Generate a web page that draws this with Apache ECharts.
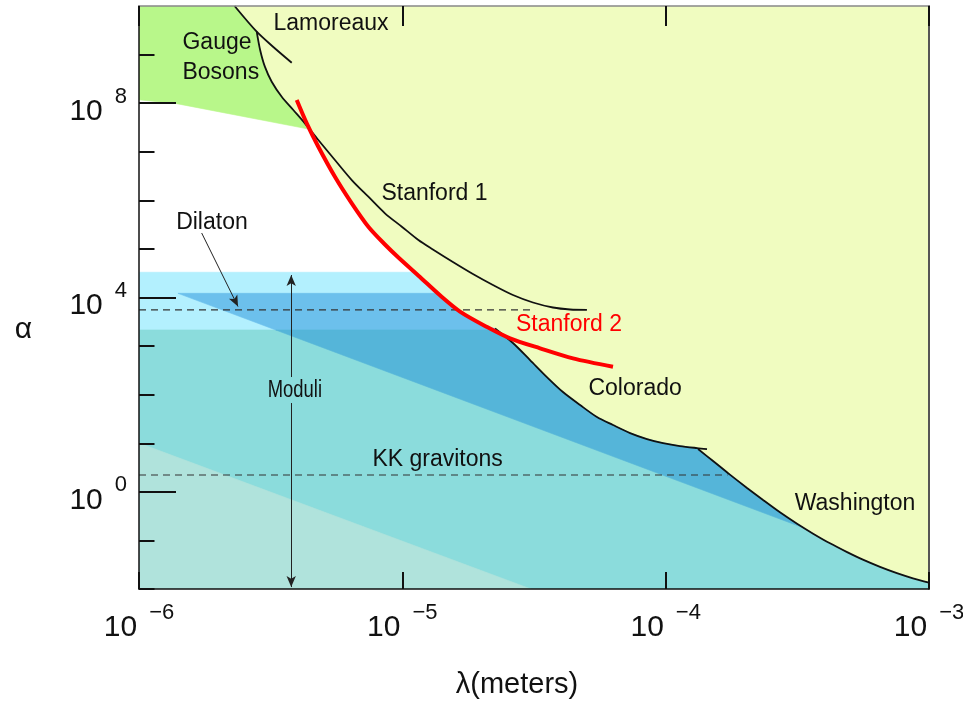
<!DOCTYPE html>
<html>
<head>
<meta charset="utf-8">
<script src="https://cdn.jsdelivr.net/npm/echarts@6/dist/echarts.min.js"></script>
<style>html,body{margin:0;padding:0;background:#fff}#c{width:963px;height:712px}</style>
</head>
<body>
<div id="c"></div>
<script>
// Every point is [log10 λ (metres), log10 α]
const xTickExps = [-6, -5, -4, -3];
const yTickExps = [-2, -1, 0, 1, 2, 3, 4, 5, 6, 7, 8, 9];
const yLabelExps = [0, 4, 8];

const lamoreaux = [[-5.637, 10.0], [-5.553, 9.471], [-5.491, 9.162], [-5.420, 8.833]];
const stanford1 = [[-5.553, 9.471], [-5.540, 9.094], [-5.522, 8.751], [-5.496, 8.442], [-5.458, 8.133],
  [-5.414, 7.859], [-5.370, 7.585], [-5.319, 7.242], [-5.256, 6.830], [-5.192, 6.418], [-5.129, 6.074],
  [-5.066, 5.733], [-5.002, 5.457], [-4.939, 5.183], [-4.884, 4.988], [-4.808, 4.730], [-4.732, 4.483],
  [-4.656, 4.257], [-4.580, 4.051], [-4.504, 3.897], [-4.428, 3.794], [-4.363, 3.753], [-4.299, 3.745]];
const stanford2 = [[-5.401, 8.065], [-5.363, 7.585], [-5.319, 7.104], [-5.256, 6.486], [-5.192, 5.939],
  [-5.129, 5.457], [-5.066, 5.091], [-5.015, 4.823], [-4.933, 4.422], [-4.857, 4.045], [-4.781, 3.711],
  [-4.678, 3.392], [-4.591, 3.160], [-4.477, 2.954], [-4.352, 2.748], [-4.200, 2.575]];
const colorado = [[-4.648, 3.362], [-4.580, 3.063], [-4.515, 2.713], [-4.451, 2.363], [-4.390, 2.054],
  [-4.325, 1.787], [-4.261, 1.540], [-4.200, 1.375], [-4.135, 1.210], [-4.071, 1.087], [-4.010, 1.005],
  [-3.946, 0.943], [-3.881, 0.901], [-3.843, 0.881]];
const washington = [[-3.877, 0.881], [-3.820, 0.634], [-3.756, 0.354], [-3.691, 0.080], [-3.630, -0.169],
  [-3.566, -0.422], [-3.501, -0.657], [-3.440, -0.861], [-3.376, -1.060], [-3.311, -1.241], [-3.251, -1.396],
  [-3.186, -1.544], [-3.122, -1.673], [-3.061, -1.779], [-3.000, -1.867]];
const gaugeLowerEdge = [[-6.0, 8.07], [-5.857, 7.99]];
const dilatonBand = [3.331, 4.52];         // light band (log10 α range)
const moduliTop = 3.331;                   // teal region top
const kkTop = 4.086;                       // upper edge of the darker wedge
const wedgeUpperLine = [[-5.852, 4.086], [-3.490, -0.714]];
const wedgeLowerLine = [[-6.0, 1.004], [-4.705, -1.610]];
const dilatonDash = [[-6.0, 3.745], [-4.496, 3.745]];
const kkDash = [[-6.0, 0.346], [-3.765, 0.346]];
const dilatonArrow = [[-5.762, 5.327], [-5.624, 3.815]];
const moduliArrowUp = [[-5.422, 2.363], [-5.422, 4.463]];
const moduliArrowDown = [[-5.422, 1.828], [-5.422, -1.96]];
const annotations = [
  ['Lamoreaux', -5.271, 9.634],
  ['Gauge\nBosons', -5.835, 8.940],
  ['Dilaton', -5.723, 5.543],
  ['Stanford 1', -4.878, 6.130],
  ['Stanford 2', -4.367, 3.433],
  ['Colorado', -4.116, 2.116],
  ['Washington', -3.281, -0.251],
  ['KK gravitons', -4.866, 0.655],
  ['Moduli', -5.408, 2.085]
];

const FONT = '"Liberation Sans", Arial, Helvetica, sans-serif';
const C = {
  yellow: '#f0fcc0', green: '#b8f78a', white: '#ffffff', cyan: '#b3f0fe',
  teal: '#8bdcdc', lightTeal: '#b0e3dc', medium: '#6cc0ec', dark: '#55b5d9'
};
const annStyle = {
  'Gauge\nBosons': { align: 'left' },
  'Stanford 2': { color: '#ff0000' },
  'Moduli': { scaleX: 0.8 }
};

// ---------- geometry helpers (work in data space) ----------
function clipPoly(poly, inside, inter) {
  const out = [];
  for (let i = 0; i < poly.length; i++) {
    const cur = poly[i], prev = poly[(i + poly.length - 1) % poly.length];
    const ci = inside(cur), pi = inside(prev);
    if (ci) { if (!pi) out.push(inter(prev, cur)); out.push(cur); }
    else if (pi) out.push(inter(prev, cur));
  }
  return out;
}
function clipY(poly, lo, hi) {
  let p = poly;
  const at = (v) => (a, b) => { const t = (v - a[1]) / (b[1] - a[1]); return [a[0] + t * (b[0] - a[0]), v]; };
  if (lo != null) p = clipPoly(p, q => q[1] >= lo, at(lo));
  if (hi != null) p = clipPoly(p, q => q[1] <= hi, at(hi));
  return p;
}
function clipLine(poly, line, side) {
  const [p1, p2] = line;
  const f = q => side * ((p2[0] - p1[0]) * (q[1] - p1[1]) - (p2[1] - p1[1]) * (q[0] - p1[0]));
  return clipPoly(poly, q => f(q) >= 0, (a, b) => {
    const fa = f(a), fb = f(b), t = fa / (fa - fb);
    return [a[0] + t * (b[0] - a[0]), a[1] + t * (b[1] - a[1])];
  });
}
function crossing(A, B) {
  for (let i = 0; i < A.length - 1; i++) for (let j = 0; j < B.length - 1; j++) {
    const p = A[i], r = [A[i + 1][0] - p[0], A[i + 1][1] - p[1]];
    const q = B[j], s = [B[j + 1][0] - q[0], B[j + 1][1] - q[1]];
    const den = r[0] * s[1] - r[1] * s[0];
    if (Math.abs(den) < 1e-12) continue;
    const t = ((q[0] - p[0]) * s[1] - (q[1] - p[1]) * s[0]) / den;
    const u = ((q[0] - p[0]) * r[1] - (q[1] - p[1]) * r[0]) / den;
    if (t >= 0 && t <= 1 && u >= 0 && u <= 1) return { pt: [p[0] + t * r[0], p[1] + t * r[1]], i, j };
  }
  return null;
}

const X0 = xTickExps[0], X1 = xTickExps[xTickExps.length - 1];
const Y0 = -2, Y1 = 10;
const cr = crossing(stanford1, stanford2);
const upperEnvelope = [lamoreaux[0], ...stanford1.slice(0, cr.i + 1), cr.pt];
const allowed = [[X0, Y1], ...upperEnvelope,
  ...stanford2.slice(cr.j + 1).filter(p => p[0] < colorado[0][0]),
  ...colorado.filter(p => p[0] < washington[0][0]),
  ...washington, [X1, Y0], [X0, Y0]];
const gaugePoly = [[X0, Y1], ...upperEnvelope, ...gaugeLowerEdge.slice().reverse()];
const cyanPoly = clipY(allowed, dilatonBand[0], dilatonBand[1]);
const tealPoly = clipY(allowed, null, moduliTop);
const wedge = clipLine(clipY(allowed, null, kkTop), wedgeUpperLine, 1);
const mediumPoly = clipY(wedge, moduliTop, null);
const darkPoly = clipY(wedge, null, moduliTop);
const lightTealPoly = clipLine(tealPoly, wedgeLowerLine, -1);

const fills = [
  { poly: allowed, color: C.white },
  { poly: gaugePoly, color: C.green },
  { poly: cyanPoly, color: C.cyan },
  { poly: tealPoly, color: C.teal },
  { poly: mediumPoly, color: C.medium },
  { poly: darkPoly, color: C.dark },
  { poly: lightTealPoly, color: C.lightTeal }
];

const rich = {
  n: { fontSize: 30, verticalAlign: 'bottom', color: '#111', fontFamily: FONT },
  s: { fontSize: 22, verticalAlign: 'top', padding: [0, 0, 19, 12], color: '#111', fontFamily: FONT }
};
const blackLine = { color: '#111', width: 1.8 };
function curve(data, style, z) {
  return { type: 'line', data, showSymbol: false, symbol: 'none', smooth: 0.3,
    clip: true, silent: true, z: z || 5, lineStyle: style };
}
function dashed(data) {
  return { type: 'line', data, showSymbol: false, symbol: 'none', silent: true, z: 4,
    lineStyle: { color: '#333', width: 1.2, type: [7, 5] } };
}
const arrowPair = a => [{ coord: a[0] }, { coord: a[1] }];

const option = {
  animation: false,
  backgroundColor: '#ffffff',
  textStyle: { fontFamily: FONT },
  grid: { left: 139, right: 34, top: 6, bottom: 123, show: true, backgroundColor: C.yellow,
    borderWidth: 0, containLabel: false, outerBoundsMode: 'none' },
  xAxis: [
    { type: 'value', min: X0, max: X1, interval: 1, position: 'bottom', z: 10,
      axisLine: { show: true, onZero: false, lineStyle: { color: '#111', width: 1.5 } },
      axisTick: { show: true, inside: true, length: 17, lineStyle: { color: '#111', width: 2 } },
      axisLabel: { show: true, margin: 13, showMinLabel: true, showMaxLabel: true,
        formatter: v => '{n|10}{s|\u2212' + Math.abs(v) + '}', rich },
      splitLine: { show: false },
      name: '\u03bb(meters)', nameLocation: 'middle', nameGap: 81,
      nameTextStyle: { fontSize: 29, color: '#111', fontFamily: FONT, padding: [0, 34, 0, 0] } },
    { type: 'value', min: X0, max: X1, interval: 1, position: 'top', z: 10,
      axisLine: { show: true, onZero: false, lineStyle: { color: '#888', width: 1.5 } },
      axisTick: { show: true, inside: true, length: 20, lineStyle: { color: '#111', width: 2 } },
      axisLabel: { show: false }, splitLine: { show: false } }
  ],
  yAxis: [
    { type: 'value', min: Y0, max: Y1, interval: 1, position: 'left', z: 10,
      axisLine: { show: true, onZero: false, lineStyle: { color: '#111', width: 1.5 } },
      axisTick: { show: true, inside: true, length: 15.5, customValues: yTickExps, lineStyle: { color: '#111', width: 2 } },
      axisLabel: { show: true, margin: 12, customValues: yLabelExps, padding: [6, 0, 0, 0],
        formatter: v => '{n|10}{s|' + v + '}', rich },
      splitLine: { show: false },
      name: '{a|\u03b1}', nameLocation: 'middle', nameRotate: 0, nameGap: 107,
      nameTextStyle: { color: '#111', rich: { a: { fontSize: 30, color: '#111', fontFamily: FONT, padding: [64, 0, 0, 0] } } } },
    { type: 'value', min: Y0, max: Y1, interval: 1, position: 'left', offset: 0, z: 10,
      axisLine: { show: false, onZero: false },
      axisTick: { show: true, inside: true, length: 37, customValues: yLabelExps, lineStyle: { color: '#111', width: 2 } },
      axisLabel: { show: false }, splitLine: { show: false } },
    { type: 'value', min: Y0, max: Y1, interval: 1, position: 'right', z: 10,
      axisLine: { show: true, onZero: false, lineStyle: { color: '#555', width: 2 } },
      axisTick: { show: false }, axisLabel: { show: false }, splitLine: { show: false } }
  ],
  series: [
    { type: 'custom', coordinateSystem: 'cartesian2d', clip: true, silent: true, z: 1,
      data: fills.map(f => [f.poly[0][0], f.poly[0][1]]), encode: { x: 0, y: 1 },
      renderItem: (params, api) => {
        const f = fills[params.dataIndex];
        return { type: 'polygon', shape: { points: f.poly.map(p => api.coord(p)) },
          style: { fill: f.color, stroke: f.color, lineWidth: 0.6 } };
      } },
    dashed(dilatonDash),
    Object.assign(dashed(kkDash), {
      markLine: { silent: true, symbol: ['none', 'arrow'], symbolSize: [7, 11],
        lineStyle: { color: '#222', width: 1, type: 'solid' }, label: { show: false },
        data: [arrowPair(dilatonArrow), arrowPair(moduliArrowUp), arrowPair(moduliArrowDown)] } }),
    curve(lamoreaux, blackLine),
    curve(stanford1, blackLine),
    curve(colorado, blackLine),
    curve(washington, blackLine),
    curve(stanford2, { color: '#ff0000', width: 4 }, 6),
    { type: 'custom', coordinateSystem: 'cartesian2d', silent: true, z: 20,
      data: annotations.map(a => [a[1], a[2]]), encode: { x: 0, y: 1 },
      renderItem: (params, api) => {
        const a = annotations[params.dataIndex];
        const st = annStyle[a[0]] || {};
        const pt = api.coord([a[1], a[2]]);
        return { type: 'text', x: pt[0], y: pt[1], scaleX: st.scaleX || 1,
          style: { text: a[0], fill: st.color || '#111', fontSize: 23,
            fontFamily: FONT, align: st.align || 'center', verticalAlign: 'middle',
            lineHeight: 29.5 } };
      } }
  ]
};
const chart = echarts.init(document.getElementById('c'), null, { renderer: 'canvas' });
chart.setOption(option);
</script>
</body>
</html>
